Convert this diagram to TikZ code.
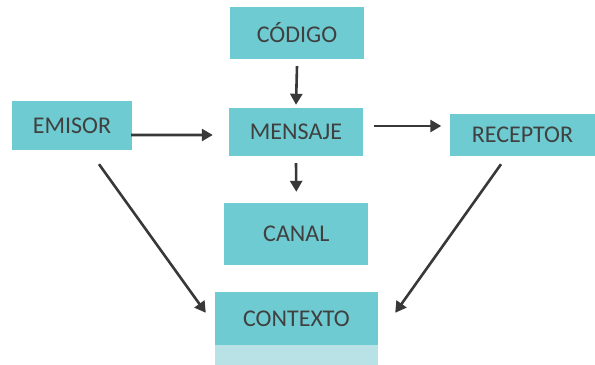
\documentclass[tikz,border=0pt]{standalone}
\usepackage{fontspec}
\setmainfont{Carlito}
\usetikzlibrary{arrows.meta,calc}
\definecolor{boxfill}{HTML}{6ECBD1}
\definecolor{boxlight}{HTML}{B8E2E6}
\definecolor{txt}{HTML}{404040}
\definecolor{arrc}{HTML}{383838}
\tikzset{
  box/.style={rectangle, fill=boxfill, inner sep=0pt, text=txt,
    font=\fontsize{24bp}{28bp}\selectfont},
  arr/.style={draw=arrc, line width=2.6bp,
    -{Triangle[length=11bp,width=12bp]}}
}
\begin{document}
\begin{tikzpicture}[x=1bp,y=-1bp]
\useasboundingbox (0,0) rectangle (595,364);
\node[box, minimum width=134bp, minimum height=52bp] (cod) at (297,33) {CÓDIGO};
\node[box, minimum width=120bp, minimum height=49bp] (emi) at (72,125.5) {EMISOR};
\node[box, minimum width=134bp, minimum height=48bp] (men) at (296,132) {MENSAJE};
\node[box, minimum width=146bp, minimum height=42bp] (rec) at (522.5,135) {RECEPTOR};
\node[box, minimum width=144bp, minimum height=62bp] (can) at (296.3,234) {CANAL};
\node[box, minimum width=163bp, minimum height=53bp] (ctx) at (296.5,318.5) {CONTEXTO};
\fill[boxlight] (ctx.south west) rectangle ($(ctx.south east)+(0,20)$);
\draw[arr] ($(cod.south)+(0,7)$) -- ($(men.north)+(0,-3)$);
\draw[arr] ($(men.south)+(0,7)$) -- ($(can.north)+(0,-11)$);
\draw[arr] ($(emi.east)+(-1,9.5)$) -- ($(men.west)+(-16,3)$);
\draw[arr] ($(men.east)+(11,-6)$) -- ($(rec.west)+(-8,-9)$);
\draw[arr] ($(emi.south)+(27,14)$) -- ($(ctx.north west)+(-9,21)$);
\draw[arr] ($(rec.south)+(-21.5,8)$) -- ($(ctx.north east)+(17,21)$);
\end{tikzpicture}
\end{document}
